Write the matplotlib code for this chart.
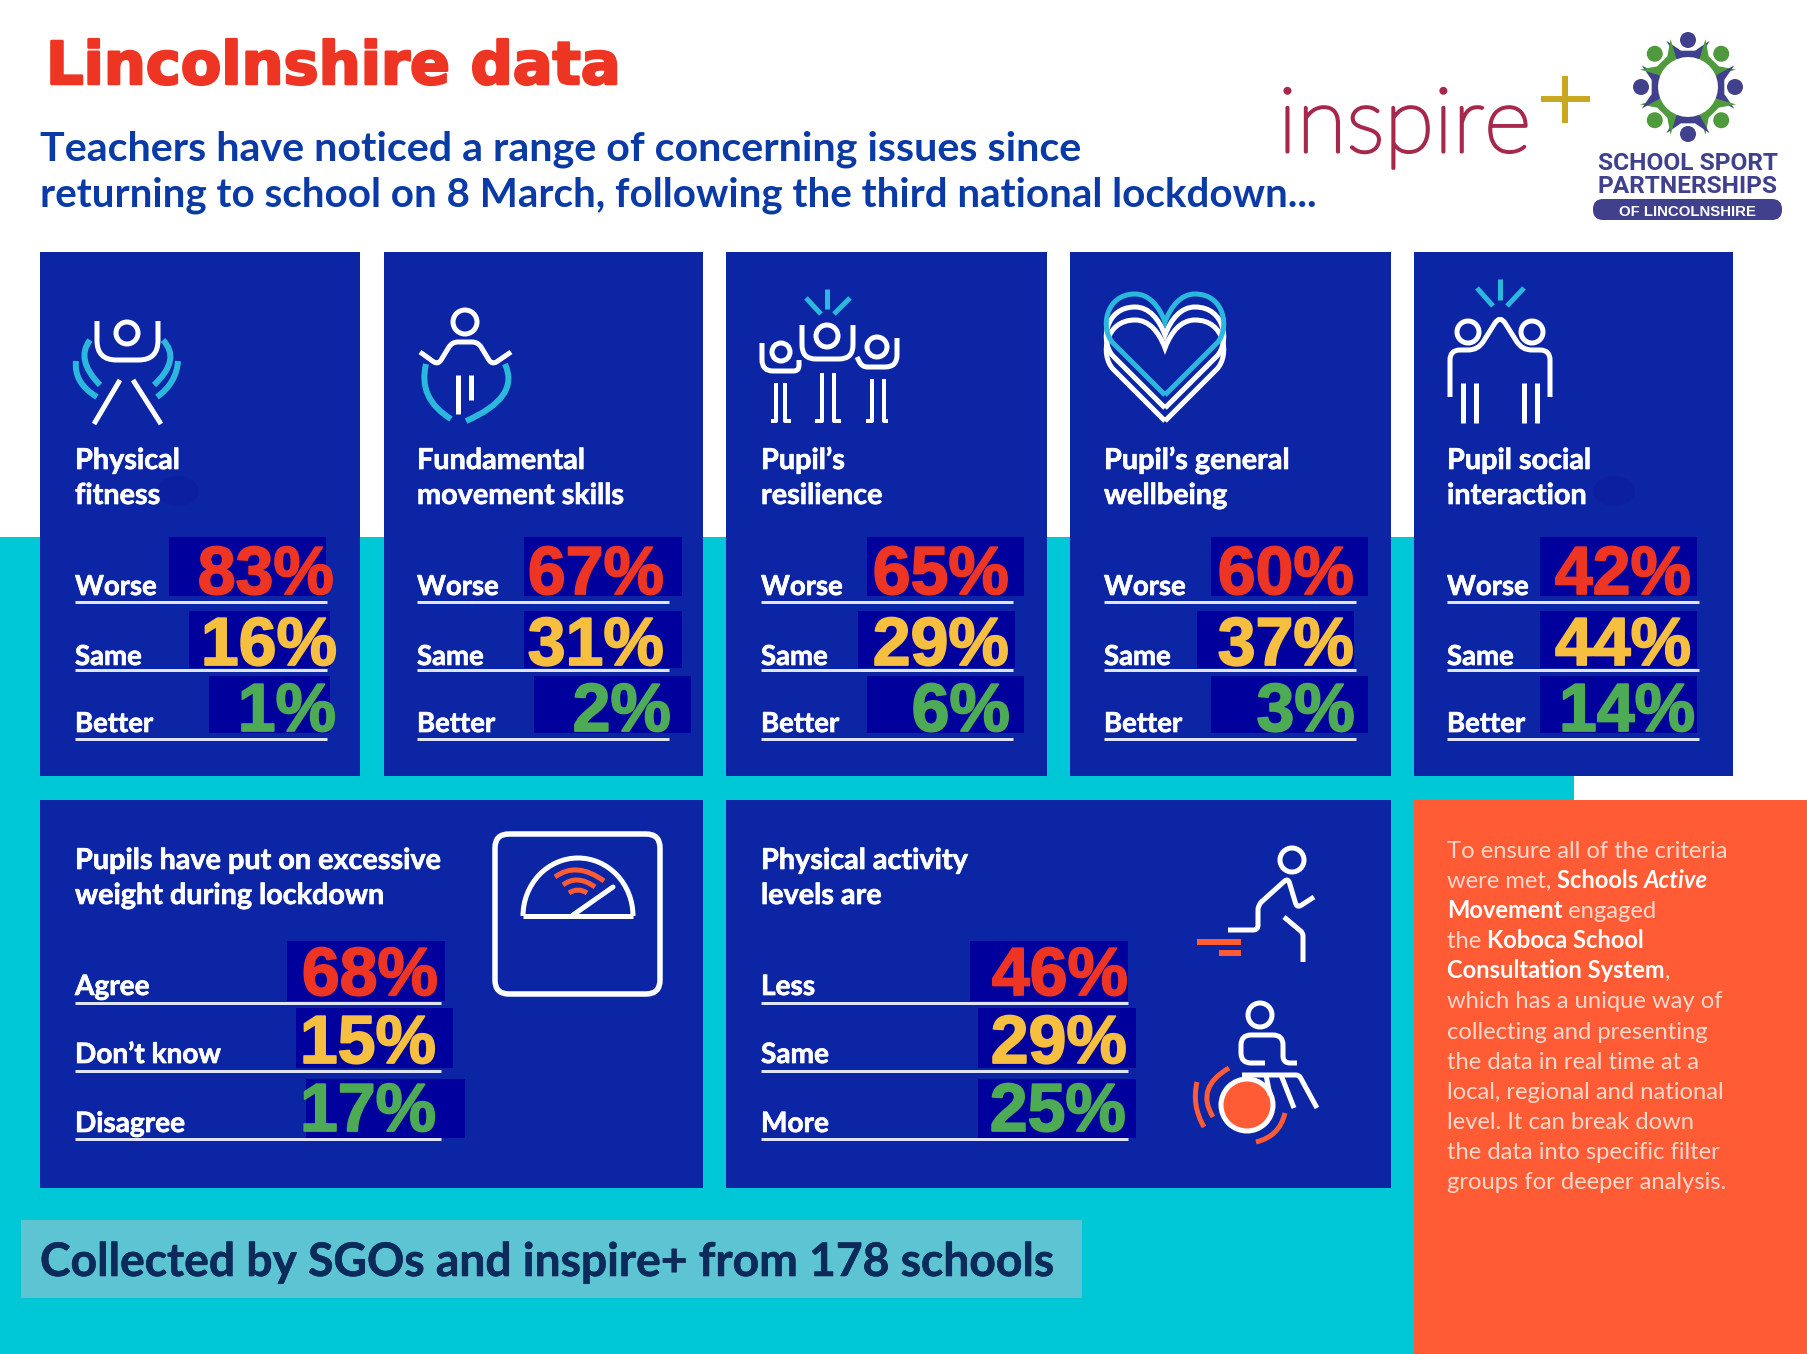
import numpy as np
import matplotlib
matplotlib.use("Agg")
import matplotlib.pyplot as plt
import matplotlib.patheffects as pe
from matplotlib.patches import Rectangle, FancyBboxPatch, Circle, Ellipse, PathPatch, Polygon, Arc
from matplotlib.path import Path

# values
panel_titles = [["Physical", "fitness"], ["Fundamental", "movement skills"], ["Pupil\u2019s", "resilience"],
                ["Pupil\u2019s general", "wellbeing"], ["Pupil social", "interaction"]]
row_labels = ["Worse", "Same", "Better"]
worse = [83, 67, 65, 60, 42]
same = [16, 31, 29, 37, 44]
better = [1, 2, 6, 3, 14]

weight_title = ["Pupils have put on excessive", "weight during lockdown"]
weight_labels = ["Agree", "Don\u2019t know", "Disagree"]
weight_vals = [68, 15, 17]
activity_title = ["Physical activity", "levels are"]
activity_labels = ["Less", "Same", "More"]
activity_vals = [46, 29, 25]

# colours
NAVY = "#0b25a4"
DARK = "#00009c"
TEAL = "#00c7d6"
ORANGE = "#ff5c35"
CYAN = "#2bb8dc"
RED = "#ee3524"
YEL = "#f6bf3f"
GRN = "#4dab55"
PURPLE = "#40408c"
LOGOGRN = "#4f9a3c"
RULE = "#dfe4f6"
row_cols = [RED, YEL, GRN]

W, H = 1808, 1354
fig = plt.figure(figsize=(W / 100, H / 100), dpi=100)
ax = fig.add_axes([0, 0, 1, 1])
ax.set_xlim(0, W)
ax.set_ylim(H, 0)
ax.axis("off")


def px(n):
    return n * 0.72


def rect(x0, y0, x1, y1, color, z=1):
    ax.add_patch(Rectangle((x0, y0), x1 - x0, y1 - y0, fc=color, ec="none", zorder=z))


def txt(x, y, s, size, color="white", family="Lato", weight="bold", ha="left", style="normal", z=6, stroke=0):
    t = ax.text(x, y, s, fontsize=px(size), color=color, family=family, weight=weight,
                ha=ha, va="baseline", style=style, zorder=z)
    if stroke:
        t.set_path_effects([pe.withStroke(linewidth=px(stroke), foreground=color)])
    return t


def line(pts, color="white", lw=5, z=5, r=0, cap="butt"):
    # polyline, corners rounded by radius r
    pts = [np.array(p, dtype=float) for p in pts]
    verts, codes = [pts[0]], [Path.MOVETO]
    for i in range(1, len(pts) - 1):
        a, v, b = pts[i - 1], pts[i], pts[i + 1]
        la, lb = np.linalg.norm(v - a), np.linalg.norm(b - v)
        rr = min(r, la / 2, lb / 2)
        if rr > 0:
            verts += [v - rr * (v - a) / la, v, v + rr * (b - v) / lb]
            codes += [Path.LINETO, Path.CURVE3, Path.CURVE3]
        else:
            verts.append(v)
            codes.append(Path.LINETO)
    verts.append(pts[-1])
    codes.append(Path.LINETO)
    ax.add_patch(PathPatch(Path(verts, codes), fc="none", ec=color, lw=px(lw), zorder=z, capstyle=cap, joinstyle="round"))


def curve(a, m, b, color="white", lw=5, z=5):
    # quadratic through a, m, b
    a, m, b = np.array(a, float), np.array(m, float), np.array(b, float)
    c = 2 * m - (a + b) / 2
    p = Path([a, c, b], [Path.MOVETO, Path.CURVE3, Path.CURVE3])
    ax.add_patch(PathPatch(p, fc="none", ec=color, lw=px(lw), zorder=z, capstyle="butt"))


def ring(x, y, r, lw=5, color="white", fc="none"):
    ax.add_patch(Circle((x, y), r, fc=fc, ec=color, lw=px(lw), zorder=5))


# background
rect(0, 537, 1574, H, TEAL, 0)
rect(1414, 800, W, H, ORANGE, 1)

# header
txt(46, 84, "Lincolnshire data", 59, RED, "DejaVu Sans", stroke=2.5)
txt(40, 160, "Teachers have noticed a range of concerning issues since", 41.3, "#0a3aa6")
txt(40, 206, "returning to school on 8 March, following the third national lockdown...", 40.4, "#0a3aa6")

# inspire+ logo
txt(1278, 152, "inspire", 91, "#a6294b", "Lato", "light", stroke=3)
line([(1541, 99), (1590, 99)], "#c8a820", 6)
line([(1565, 76), (1565, 123)], "#c8a820", 6)

# school sport logo
cx, cy = 1688, 87
for i in range(8):
    a = np.deg2rad(45 * i - 90)
    col = PURPLE if i % 2 == 0 else LOGOGRN
    ax.add_patch(Circle((cx + 47 * np.cos(a), cy + 47 * np.sin(a)), 8, fc=col, ec="none", zorder=3))
    polar = [(30, -22.5), (30, -11), (30, 0), (30, 11), (30, 22.5), (51, 25), (37, 11), (37, -11), (51, -25)]
    pts = [(cx + r * np.cos(a + np.deg2rad(d)), cy + r * np.sin(a + np.deg2rad(d))) for r, d in polar]
    ax.add_patch(Polygon(pts, closed=True, fc=col, ec="none", zorder=3))
txt(1688, 170, "SCHOOL SPORT", 24.5, PURPLE, "Roboto", ha="center")
txt(1688, 193, "PARTNERSHIPS", 24.5, PURPLE, "Roboto", ha="center")
ax.add_patch(FancyBboxPatch((1594, 200), 187, 19, boxstyle="round,pad=0,rounding_size=9", fc=PURPLE, ec=PURPLE, lw=px(2), zorder=3))
txt(1688, 216, "OF LINCOLNSHIRE", 15, "white", "Liberation Sans", ha="center")

# top panels
panel_x = [(40, 360), (384, 703), (726, 1047), (1070, 1391), (1414, 1733)]
label_x = [75, 417, 761, 1104, 1447]
row_bg_y = [(537, 596), (611, 668), (676, 733)]
row_line_y = [602, 670, 739]
row_base = [595, 665, 732]
pct_base = [594, 665, 731]
bg_x = [[(169, 326), (189, 330), (209, 330)],
        [(524, 682), (524, 682), (534, 691)],
        [(867, 1024), (858, 1015), (867, 1024)],
        [(1211, 1368), (1197, 1354), (1211, 1368)],
        [(1540, 1697), (1540, 1697), (1540, 1697)]]
pct_right = [[334, 337, 336], [664, 664, 671], [1009, 1009, 1010], [1354, 1354, 1355], [1691, 1691, 1695]]

for p, (x0, x1) in enumerate(panel_x):
    rect(x0, 252, x1, 776, NAVY, 2)
    lx = label_x[p]
    txt(lx, 469, panel_titles[p][0], 28.8, stroke=0.7)
    txt(lx, 504, panel_titles[p][1], 28.8, stroke=0.7)
    vals = [worse[p], same[p], better[p]]
    for r in range(3):
        rect(bg_x[p][r][0], row_bg_y[r][0], bg_x[p][r][1], row_bg_y[r][1], DARK, 3)
        txt(lx, row_base[r], row_labels[r], 27.5, stroke=0.7)
        line([(lx, row_line_y[r]), (lx + 252, row_line_y[r])], RULE, 3)
        txt(pct_right[p][r], pct_base[r], f"{vals[r]}%", 68, row_cols[r], "Liberation Sans", ha="right", stroke=1.8)

# faint smudges beside two of the titles
for ex in (178, 1614):
    ax.add_patch(Ellipse((ex, 491), 42, 30, fc="#0c1fa0", ec="none", zorder=3))

# lower panels
rect(40, 800, 703, 1188, NAVY, 2)
rect(726, 800, 1391, 1188, NAVY, 2)
low_line_y = [1003, 1071, 1139]
low_base = [995, 1063, 1132]
low_pct = [995, 1063, 1131]
low_bg_y = [(941, 1001), (1008, 1068), (1079, 1138)]

txt(75, 869, weight_title[0], 28.8, stroke=0.7)
txt(75, 904, weight_title[1], 28.8, stroke=0.7)
weight_bg = [(287, 445), (296, 453), (306, 465)]
weight_right = [438, 436, 436]
txt(761, 869, activity_title[0], 28.8, stroke=0.7)
txt(761, 904, activity_title[1], 28.8, stroke=0.7)
activity_bg = [(970, 1128), (978, 1136), (978, 1136)]
activity_right = [1128, 1127, 1126]
for r in range(3):
    rect(weight_bg[r][0], low_bg_y[r][0], weight_bg[r][1], low_bg_y[r][1], DARK, 3)
    txt(75, low_base[r], weight_labels[r], 28, stroke=0.7)
    line([(75, low_line_y[r]), (441, low_line_y[r])], RULE, 3)
    txt(weight_right[r], low_pct[r], f"{weight_vals[r]}%", 68, row_cols[r], "Liberation Sans", ha="right", stroke=1.8)
    rect(activity_bg[r][0], low_bg_y[r][0], activity_bg[r][1], low_bg_y[r][1], DARK, 3)
    txt(761, low_base[r], activity_labels[r], 28, stroke=0.7)
    line([(761, low_line_y[r]), (1128, low_line_y[r])], RULE, 3)
    txt(activity_right[r], low_pct[r], f"{activity_vals[r]}%", 68, row_cols[r], "Liberation Sans", ha="right", stroke=1.8)

# icon: physical fitness
ring(127, 333, 11)
line([(97, 321), (97, 360), (158, 360), (158, 321)], r=30)
line([(120, 380), (94, 424)])
line([(133, 380), (161, 424)])
curve((90, 340), (85, 361), (100, 385), CYAN, 6)
curve((76, 361), (80, 381), (97, 397), CYAN, 6)
curve((163, 340), (170, 361), (154, 385), CYAN, 6)
curve((178, 361), (172, 381), (157, 397), CYAN, 6)

# icon: fundamental movement
ring(465, 322, 12)
line([(420, 352), (438, 365), (452, 342), (478, 342), (492, 365), (511, 352)], r=6)
line([(458, 375), (458, 414)])
line([(471, 375), (471, 400)])
curve((426, 364), (428, 395), (451, 419), CYAN, 6)
curve((505, 364), (503, 395), (466, 421), CYAN, 6)

# icon: resilience
ring(827, 336, 11)
ring(781, 352, 9)
ring(877, 347, 10)
line([(802, 325), (802, 359), (853, 359), (853, 325)], r=14)
line([(762, 343), (762, 371), (799, 371), (799, 360)], r=11)
line([(857, 357), (862, 367), (897, 367), (897, 338)], r=12)
for a, b, f0, f1, top in [(776, 785, 771, 791, 383), (822, 834, 815, 841, 373), (872, 884, 866, 888, 379)]:
    line([(a, top), (a, 421), (f0, 421)], lw=4)
    line([(b, top), (b, 421), (f1, 421)], lw=4)
line([(806, 298), (821, 314)], CYAN, 5)
line([(827, 289), (827, 309)], CYAN, 5)
line([(850, 298), (834, 314)], CYAN, 5)


# icon: heart
def heart(cxh, off, color, z):
    yb, yl, yt, yd = 395 + off, 335 + off, 294 + off, 322 + off
    v = [(cxh, yb), (cxh - 52, yl + 8), (cxh - 65, yl - 6), (cxh - 60, yt), (cxh - 30, yt), (cxh - 16, yt), (cxh - 6, yt + 12), (cxh, yd),
         (cxh + 6, yt + 12), (cxh + 16, yt), (cxh + 30, yt), (cxh + 60, yt), (cxh + 65, yl - 6), (cxh + 52, yl + 8), (cxh, yb)]
    codes = [Path.MOVETO, Path.LINETO] + [Path.CURVE4] * 12 + [Path.LINETO]
    ax.add_patch(PathPatch(Path(v, codes), fc="none", ec=color, lw=px(5), zorder=z))


heart(1165, 26, "white", 4)
heart(1165, 13, "white", 4)
heart(1165, 0, CYAN, 5)

# icon: social interaction
ring(1468, 332, 11)
ring(1532, 332, 11)
line([(1450, 397), (1450, 350), (1478, 350), (1500, 315), (1522, 350), (1550, 350), (1550, 397)], r=10)
for lx in (1463, 1476, 1524, 1537):
    line([(lx, 383), (lx, 423)])
line([(1477, 288), (1493, 306)], CYAN, 5)
line([(1500, 279), (1500, 300)], CYAN, 5)
line([(1524, 288), (1507, 306)], CYAN, 5)

# icon: scales
ax.add_patch(FancyBboxPatch((495, 834), 165, 160, boxstyle="round,pad=0,rounding_size=14", fc="none", ec="white", lw=px(5.5), zorder=5))
ax.add_patch(Arc((578, 916), 110, 116, theta1=180, theta2=360, ec="white", lw=px(5), zorder=5))
line([(523, 916), (633, 916)])
line([(573, 915), (613, 887)], cap="round")
curve((555, 877), (578, 870), (604, 881), ORANGE, 5)
curve((563, 885), (578, 880), (595, 887), ORANGE, 5)
curve((569, 893), (578, 890), (587, 893), ORANGE, 5)

# icon: stairs runner
ring(1292, 860, 12)
line([(1228, 930), (1258, 930), (1258, 905), (1288, 878), (1297, 908), (1314, 897)], r=5)
line([(1284, 917), (1303, 933), (1303, 962)], r=3)
line([(1197, 942), (1241, 942)], ORANGE, 6)
line([(1219, 953), (1241, 953)], ORANGE, 6)

# icon: wheelchair
ring(1260, 1015, 12)
line([(1297, 1063), (1283, 1063), (1283, 1035), (1241, 1035), (1241, 1063), (1265, 1063)], r=10)
ring(1247, 1105, 26, 5, "white", ORANGE)
line([(1242, 1075), (1299, 1075), (1317, 1108)], r=3)
line([(1281, 1075), (1294, 1108)])
line([(1266, 1075), (1270, 1095)])
curve((1197, 1082), (1196, 1105), (1204, 1127), ORANGE)
curve((1229, 1068), (1208, 1090), (1213, 1117), ORANGE)
curve((1285, 1113), (1275, 1132), (1256, 1142), ORANGE)

# orange box text, one run after another
body_col = "#f8d8cc"
body_lines = [[("To ensure all of the criteria", "normal", "normal")],
              [("were met, ", "normal", "normal"), ("Schools ", "bold", "normal"), ("Active", "bold", "italic")],
              [("Movement", "bold", "normal"), (" engaged", "normal", "normal")],
              [("the ", "normal", "normal"), ("Koboca School", "bold", "normal")],
              [("Consultation System", "bold", "normal"), (",", "normal", "normal")],
              [("which has a unique way of", "normal", "normal")],
              [("collecting and presenting", "normal", "normal")],
              [("the data in real time at a", "normal", "normal")],
              [("local, regional and national", "normal", "normal")],
              [("level. It can break down", "normal", "normal")],
              [("the data into specific filter", "normal", "normal")],
              [("groups for deeper analysis.", "normal", "normal")]]
renderer = fig.canvas.get_renderer()
for i, runs in enumerate(body_lines):
    x = 1447
    for s, wt, st in runs:
        s2 = s.replace(" ", "\u00a0")
        t = txt(x, 858 + i * 30.1, s2, 23.8, body_col if wt == "normal" else "white", "Lato", wt, style=st)
        x = t.get_window_extent(renderer).x1

# caption strip
rect(21, 1220, 1082, 1298, "#5cc4d2", 3)
txt(40, 1276, "Collected by SGOs and inspire+ from 178 schools", 46.2, "#0c2a5a", stroke=0.6)

fig.savefig("out.png", dpi=100, facecolor="white")
